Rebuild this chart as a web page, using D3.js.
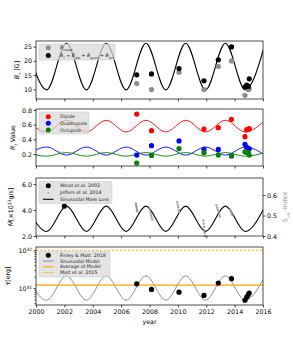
<!DOCTYPE html>
<html><head><meta charset="utf-8">
<script src="https://cdn.jsdelivr.net/npm/d3@7"></script>
<style>body{margin:0;background:#fff}svg{display:block}text{font-family:"DejaVu Sans",sans-serif}</style>
</head><body><svg id="c" width="293" height="342"></svg>
<script>
// ---------- data ----------
const xTickYears = [2000, 2002, 2004, 2006, 2008, 2010, 2012, 2014, 2016];
// model curve turning points (peaks / troughs)
const modelYears = [1999.35, 2000.75, 2002.15, 2003.55, 2004.95, 2006.35, 2007.75, 2009.15, 2010.55, 2011.95, 2013.35, 2014.75, 2016.15];
const bModel = [26.2, 9.8, 26.2, 9.8, 26.2, 9.8, 26.2, 9.8, 26.2, 9.8, 26.2, 9.8, 26.2];
const dipModel = [0.66, 0.50, 0.66, 0.50, 0.66, 0.50, 0.66, 0.50, 0.66, 0.50, 0.66, 0.50, 0.66];
const quadModel = [0.185, 0.295, 0.185, 0.295, 0.185, 0.295, 0.185, 0.295, 0.185, 0.295, 0.185, 0.295, 0.185];
const octModel = [0.22, 0.17, 0.22, 0.17, 0.22, 0.17, 0.22, 0.17, 0.22, 0.17, 0.22, 0.17, 0.22];
const mdotModel = [4.3, 2.35, 4.3, 2.35, 4.3, 2.35, 4.3, 2.35, 4.3, 2.35, 4.3, 2.35, 4.3];
const torqueModel = [2.1e31, 4.8e30, 2.1e31, 4.8e30, 2.1e31, 4.8e30, 2.1e31, 4.8e30, 2.1e31, 4.8e30, 2.1e31, 4.8e30, 2.1e31];
const torqueAverage = 1.2e31;
const torqueMatt2015 = 1.0e32;

// observation epochs
const obsYears = [2007.10, 2008.14, 2010.08, 2011.84, 2012.85, 2013.78, 2014.73, 2014.85, 2014.96, 2015.03];
const bStar = [15.1, 15.4, 17.3, 13.0, 20.4, 24.9, 10.8, 11.5, 11.0, 13.7];
const bMean = [12.0, 9.9, 16.0, 9.9, 18.1, 20.0, 7.9, 10.4, 9.9, 10.1];
const rDipole = [0.745, 0.518, null, 0.541, 0.559, 0.673, 0.436, 0.530, 0.540, 0.545];
const rQuad = [0.186, 0.313, 0.378, 0.262, 0.262, 0.173, 0.332, 0.290, 0.277, 0.270];
const rOct = [0.076, 0.180, 0.272, 0.218, 0.186, 0.177, 0.231, 0.222, 0.218, 0.186];
const torqueObs = [1.3e31, 9.2e30, 7.8e30, 6.4e30, 1.36e31, 1.77e31, 4.8e30, 5.8e30, 6.7e30, 7.4e30];

const woodYear = [2002.0];
const woodMdot = [4.3];

const jeffersYears = [2007.04, 2007.06, 2007.08, 2007.10, 2007.12, 2007.14,
  2008.00, 2008.04, 2008.08, 2008.12, 2008.16, 2008.20,
  2009.96, 2009.99, 2010.02, 2010.05, 2010.08,
  2011.80, 2011.82, 2011.84, 2011.86, 2011.88, 2011.90,
  2012.72, 2012.77, 2012.82, 2012.87, 2012.92, 2012.97,
  2013.68, 2013.72, 2013.76, 2013.80, 2013.84];
const jeffersS = [0.558, 0.550, 0.542, 0.534, 0.527, 0.520,
  0.535, 0.524, 0.512, 0.500, 0.490, 0.480,
  0.565, 0.553, 0.541, 0.528, 0.516,
  0.475, 0.460, 0.445, 0.430, 0.415, 0.400,
  0.550, 0.538, 0.527, 0.516, 0.505, 0.495,
  0.530, 0.523, 0.516, 0.509, 0.502];

// ---------- drawing ----------
const svg = d3.select("#c");
const FS = 6.3, LFS = 4.7;
const x = d3.scaleLinear().domain([2000, 2016]).range([36, 263]);
const panels = [{top: 41, bot: 99}, {top: 109, bot: 166}, {top: 178, bot: 236}, {top: 247, bot: 305}];
const y1 = d3.scaleLinear().domain([6.58, 27.0]).range([99, 41]);
const y2 = d3.scaleLinear().domain([0.0364, 0.8136]).range([166, 109]);
const y3 = d3.scaleLinear().domain([2, 6.46]).range([236, 178]);
const y3r = d3.scaleLinear().domain([0.4, 0.683]).range([236, 178]);
const y4 = d3.scaleLog().domain([Math.pow(10, 30.553), Math.pow(10, 32.087)]).range([305, 247]);

panels.forEach((p, i) => {
  svg.append("clipPath").attr("id", "clip" + i).append("rect")
    .attr("x", x.range()[0]).attr("y", p.top).attr("width", x.range()[1] - x.range()[0]).attr("height", p.bot - p.top);
});

function styleAxis(g) {
  g.select(".domain").remove();
  g.selectAll("text").attr("font-size", FS).attr("fill", "#000").attr("font-family", "DejaVu Sans");
  g.selectAll("line").attr("stroke", "#000").attr("stroke-width", 0.7);
}
function xAxis(i, labels) {
  const g = svg.append("g").attr("transform", `translate(0,${panels[i].bot})`)
    .call(d3.axisBottom(x).tickValues(xTickYears).tickSize(2.5).tickPadding(2).tickFormat(labels ? d3.format("d") : ""));
  styleAxis(g);
}
function modelLine(i, yScale, vals, color, w) {
  const line = d3.line().x(d => x(d[0])).y(d => yScale(d[1])).curve(d3.curveMonotoneX);
  svg.append("path").attr("clip-path", `url(#clip${i})`)
    .attr("d", line(modelYears.map((t, k) => [t, vals[k]])))
    .attr("fill", "none").attr("stroke", color).attr("stroke-width", w || 1.1);
}
function dots(i, yScale, xs, vals, color, r) {
  svg.append("g").selectAll("circle").data(xs.map((t, k) => [t, vals[k]]).filter(d => d[1] != null))
    .join("circle").attr("cx", d => x(d[0])).attr("cy", d => yScale(d[1])).attr("r", r || 2.6).attr("fill", color);
}
function frame(i) {
  const p = panels[i];
  svg.append("rect").attr("x", x.range()[0]).attr("y", p.top).attr("width", x.range()[1] - x.range()[0]).attr("height", p.bot - p.top)
    .attr("fill", "none").attr("stroke", "#000").attr("stroke-width", 0.7);
}
function rich(sel, parts, size) {
  parts.forEach(pt => {
    const ts = sel.append("tspan").text(pt.t);
    if (pt.it) ts.attr("font-style", "italic");
    if (pt.sub) ts.attr("baseline-shift", "sub").attr("font-size", size * 0.7);
    if (pt.sup) ts.attr("baseline-shift", "super").attr("font-size", size * 0.7);
  });
}
function yLabel(xp, yc, parts, color) {
  const t = svg.append("text").attr("transform", `translate(${xp},${yc}) rotate(-90)`)
    .attr("text-anchor", "middle").attr("font-size", FS).attr("fill", color || "#000");
  rich(t, parts, FS);
}
function legend(bx, by, bw, bh, items) {
  svg.append("rect").attr("x", bx).attr("y", by).attr("width", bw).attr("height", bh).attr("rx", 1)
    .attr("fill", "#d9d9d9").attr("fill-opacity", 0.75).attr("stroke", "#c4c4c4").attr("stroke-width", 0.5);
  items.forEach(it => {
    if (it.type === "dot") svg.append("circle").attr("cx", bx + 9.3).attr("cy", it.y).attr("r", it.r || 2.5).attr("fill", it.color);
    else svg.append("line").attr("x1", bx + 4).attr("x2", bx + 14.5).attr("y1", it.y).attr("y2", it.y)
      .attr("stroke", it.color).attr("stroke-width", it.w || 1.1).attr("stroke-dasharray", it.dash || null);
    const t = svg.append("text").attr("x", bx + 21).attr("y", it.y + 1.6).attr("font-size", LFS).attr("fill", "#222");
    rich(t, it.parts, LFS);
  });
}

// ----- panel 1 -----
modelLine(0, y1, bModel, "#000");
dots(0, y1, obsYears, bMean, "#8c8c8c");
dots(0, y1, obsYears, bStar, "#000");
frame(0);
styleAxis(svg.append("g").attr("transform", "translate(36,0)").call(d3.axisLeft(y1).tickValues([10, 15, 20, 25]).tickSize(2.5).tickPadding(1.5)));
xAxis(0, false);
yLabel(19, 70, [{t: "B", it: 1}, {t: "*", sub: 1}, {t: " [G]"}]);
legend(39, 44, 76, 16, [
  {type: "dot", y: 47.8, color: "#8c8c8c", parts: [{t: "B", it: 1}, {t: "mean", sub: 1, it: 1}]},
  {type: "dot", y: 55.5, color: "#000", parts: [{t: "B", it: 1}, {t: "*", sub: 1}, {t: " = "}, {t: "B", it: 1}, {t: "dip", sub: 1, it: 1}, {t: " + "}, {t: "B", it: 1}, {t: "quad", sub: 1, it: 1}, {t: " + "}, {t: "B", it: 1}, {t: "oct", sub: 1, it: 1}]}
]);

// ----- panel 2 -----
modelLine(1, y2, dipModel, "red", 0.9);
modelLine(1, y2, quadModel, "blue", 0.9);
modelLine(1, y2, octModel, "green", 0.9);
dots(1, y2, obsYears, rDipole, "red");
dots(1, y2, obsYears, rQuad, "blue");
dots(1, y2, obsYears, rOct, "green");
frame(1);
styleAxis(svg.append("g").attr("transform", "translate(36,0)").call(d3.axisLeft(y2).tickValues([0.2, 0.4, 0.6, 0.8]).tickSize(2.5).tickPadding(1.5).tickFormat(d3.format(".1f"))));
xAxis(1, false);
yLabel(15, 137.5, [{t: "R", it: 1}, {t: "l", sub: 1, it: 1}, {t: " Value"}]);
legend(39, 112, 50, 22, [
  {type: "dot", y: 116.7, color: "red", parts: [{t: "Dipole"}]},
  {type: "dot", y: 123.3, color: "blue", parts: [{t: "Quadrupole"}]},
  {type: "dot", y: 130, color: "green", parts: [{t: "Octupole"}]}
]);

// ----- panel 3 -----
modelLine(2, y3, mdotModel, "#000");
svg.append("g").selectAll("rect").data(jeffersYears.map((t, k) => [t, jeffersS[k]])).join("rect")
  .attr("x", d => x(d[0]) - 1).attr("y", d => y3r(d[1]) - 1).attr("width", 2).attr("height", 2).attr("fill", "#999");
dots(2, y3, woodYear, woodMdot, "#000");
frame(2);
styleAxis(svg.append("g").attr("transform", "translate(36,0)").call(d3.axisLeft(y3).tickValues([2, 4, 6]).tickSize(2.5).tickPadding(1.5)));
styleAxis(svg.append("g").attr("transform", "translate(263,0)").call(d3.axisRight(y3r).tickValues([0.4, 0.5, 0.6]).tickSize(2.5).tickPadding(1.5).tickFormat(d3.format(".1f"))));
xAxis(2, false);
yLabel(13, 207, [{t: "M\u0307", it: 1}, {t: "[×10"}, {t: "13", sup: 1}, {t: "g/s]"}]);
yLabel(287, 207, [{t: "S", it: 0}, {t: "HK", sub: 1}, {t: "–index"}], "#999");
legend(39, 181.5, 73, 22, [
  {type: "dot", y: 185.8, color: "#000", parts: [{t: "Wood et al. 2002"}]},
  {type: "dot", y: 192.8, color: "#999", r: 0.9, parts: [{t: "Jeffers et al. 2014"}]},
  {type: "line", y: 199.3, color: "#000", parts: [{t: "Sinusoidal Mass Loss"}]}
]);

// ----- panel 4 -----
modelLine(3, y4, torqueModel, "#8c8c8c", 1.0);
svg.append("line").attr("x1", x(2000)).attr("x2", x(2016)).attr("y1", y4(torqueAverage)).attr("y2", y4(torqueAverage))
  .attr("stroke", "orange").attr("stroke-width", 1.1);
svg.append("line").attr("x1", x(2000)).attr("x2", x(2016)).attr("y1", y4(torqueMatt2015)).attr("y2", y4(torqueMatt2015))
  .attr("stroke", "orange").attr("stroke-width", 0.8).attr("stroke-dasharray", "2.5,1.5");
dots(3, y4, obsYears, torqueObs, "#000");
frame(3);
const minorTicks = [4e30, 5e30, 6e30, 7e30, 8e30, 9e30, 2e31, 3e31, 4e31, 5e31, 6e31, 7e31, 8e31, 9e31];
styleAxis(svg.append("g").attr("transform", "translate(36,0)").call(d3.axisLeft(y4).tickValues(minorTicks).tickSize(1.5).tickFormat("")));
const g4 = svg.append("g").attr("transform", "translate(36,0)").call(d3.axisLeft(y4).tickValues([1e31, 1e32]).tickSize(2.5).tickPadding(1.5).tickFormat(""));
styleAxis(g4);
g4.selectAll(".tick text").each(function(d) {
  const t = d3.select(this).text("");
  t.append("tspan").text("10");
  t.append("tspan").attr("baseline-shift", "super").attr("font-size", FS * 0.7).text(String(Math.round(Math.log10(d))));
});
xAxis(3, true);
yLabel(10, 276, [{t: "τ[erg]"}]);
svg.append("text").attr("x", x(2008)).attr("y", 323.5).attr("text-anchor", "middle").attr("font-size", FS).text("year");
legend(39, 251.5, 71, 25.5, [
  {type: "dot", y: 255.2, color: "#000", parts: [{t: "Finley & Matt. 2018"}]},
  {type: "line", y: 261, color: "#8c8c8c", w: 1.0, parts: [{t: "Sinusoidal Model"}]},
  {type: "line", y: 266.8, color: "orange", w: 1.1, parts: [{t: "Average of Model"}]},
  {type: "line", y: 272.6, color: "orange", w: 0.8, dash: "2,1.2", parts: [{t: "Matt et al. 2015"}]}
]);
</script></body></html>
